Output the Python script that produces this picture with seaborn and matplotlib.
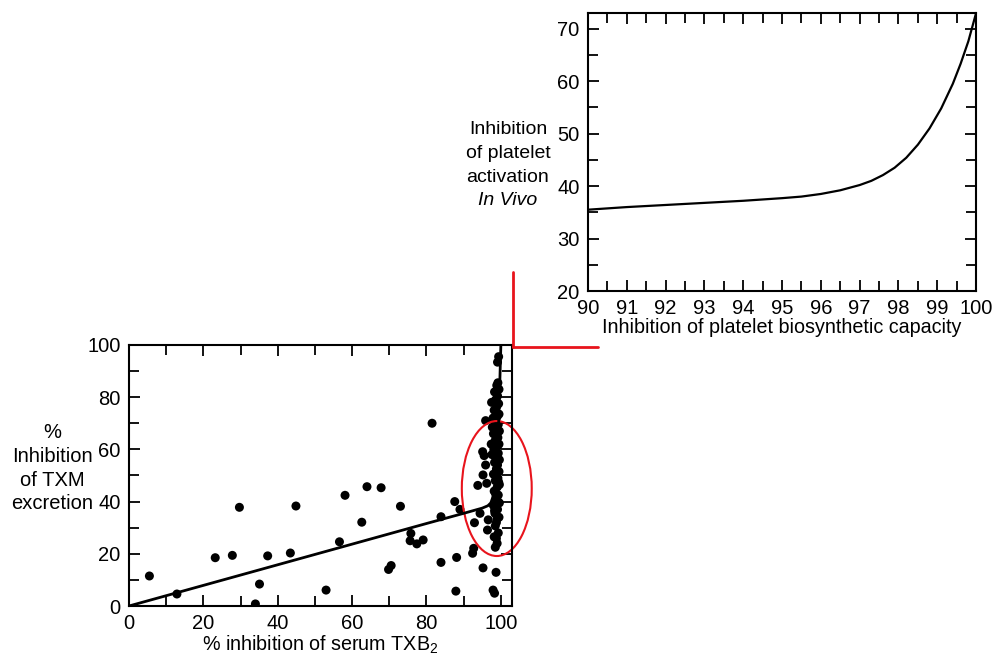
import numpy as np
import pandas as pd
import matplotlib as mpl
from matplotlib import pyplot as plt
from matplotlib.patches import Ellipse
from matplotlib.lines import Line2D
from matplotlib.ticker import MultipleLocator
import seaborn as sns

# top panel: model curve
bio_x = [90, 91, 92, 93, 94, 95, 95.5, 96, 96.5, 97, 97.3, 97.6, 97.9, 98.2, 98.5,
         98.8, 99.1, 99.4, 99.6, 99.8, 100]
act_y = [35.5, 36.0, 36.4, 36.8, 37.2, 37.7, 38.0, 38.5, 39.2, 40.2, 41.0, 42.1, 43.5,
         45.4, 47.9, 51.0, 54.8, 59.5, 63.3, 67.6, 73.0]

# bottom panel: fitted curve
fit_x = [0, 20, 40, 60, 80, 90, 95, 96.5, 97.3, 97.8, 98.2, 98.6, 99.0, 99.4, 99.7, 100]
fit_y = [0, 7.9, 15.8, 23.7, 31.6, 35.5, 37.5, 38.4, 39.5, 41.5, 44.0, 48.0, 55.0, 70.0, 85.0, 100.0]

# bottom panel: scatter
serum_x = [5.5, 12.9, 23.2, 27.8, 29.7, 34.0, 35.1, 37.3, 43.4, 44.9, 53.0, 56.6, 58.1,
           62.6, 64.0, 67.8, 69.8, 70.5, 73.0, 75.8, 75.6, 77.4, 79.1, 81.5, 83.9, 83.9,
           87.6, 88.1, 87.9, 89.0, 92.4, 92.7, 92.9, 93.8, 94.4, 95.2, 95.2, 95.1, 95.5,
           95.9, 95.9, 96.2, 96.6, 96.4, 97.9, 98.3, 98.7, 98.5, 98.8, 98.5, 99.1, 99.4,
           99.0, 98.2, 99.3, 98.8, 99.5, 98.4, 99.1, 98.0, 99.6, 98.7, 99.3, 98.2, 99.0,
           99.6, 98.5, 99.2, 98.0, 99.5, 98.8, 99.1, 98.3, 99.6, 98.7, 99.3, 98.1, 99.0,
           99.5, 98.5, 99.2, 98.0, 99.6, 98.8, 99.3, 98.4, 99.0, 99.5, 98.2, 98.9, 99.4,
           98.6, 99.1, 98.3, 99.5, 98.9, 99.2, 98.5, 98.9, 99.4, 98.6, 99.2, 98.3, 99.0,
           97.6, 97.4, 97.7, 97.9, 97.5]
txm_y = [11.5, 4.6, 18.5, 19.4, 37.8, 0.8, 8.4, 19.2, 20.3, 38.3, 6.1, 24.6, 42.4,
         32.1, 45.7, 45.3, 14.0, 15.5, 38.2, 27.8, 25.0, 23.8, 25.3, 70.0, 34.2, 16.7,
         40.0, 18.6, 5.7, 37.0, 20.2, 22.1, 31.9, 46.2, 35.5, 14.6, 50.2, 59.1, 57.6,
         54.0, 71.0, 47.0, 33.0, 29.1, 6.1, 4.9, 12.9, 22.5, 25.9, 30.7, 93.4, 95.5,
         24.0, 26.5, 28.0, 32.0, 34.0, 35.5, 37.0, 38.5, 39.5, 41.0, 42.5, 44.0, 45.5,
         46.5, 48.0, 49.0, 50.5, 51.5, 52.5, 54.0, 55.0, 56.0, 57.5, 58.5, 60.0, 61.0,
         62.0, 63.5, 64.5, 66.0, 67.0, 68.0, 69.5, 71.0, 72.5, 73.5, 75.0, 76.5, 77.5,
         79.0, 80.5, 82.0, 83.0, 84.5, 85.5, 60.5, 55.5, 47.5, 43.0, 40.0, 36.5, 33.5,
         58.0, 62.0, 68.5, 72.0, 78.0]

sns.set_style('ticks')
plt.rcParams['font.family'] = ['Liberation Sans', 'DejaVu Sans']
plt.rcParams['mathtext.fontset'] = 'custom'
plt.rcParams['mathtext.rm'] = 'Liberation Sans'
plt.rcParams['mathtext.it'] = 'Liberation Sans:italic'
plt.rcParams['mathtext.default'] = 'regular'
plt.rcParams['text.color'] = 'black'
plt.rcParams['axes.labelcolor'] = 'black'

fig = plt.figure(figsize=(9.95, 6.56), dpi=100)
ax1 = fig.add_axes([0.591, 0.5564, 0.390, 0.4238])
ax2 = fig.add_axes([0.1296, 0.0762, 0.385, 0.398])


def style(ax):
    for s in ax.spines.values():
        s.set_linewidth(1.5)
        s.set_color('black')
    ax.tick_params(which='both', direction='in', top=True, right=True,
                   width=1.3, colors='black', labelsize=14.5)
    ax.tick_params(which='major', length=8)
    ax.tick_params(which='minor', length=7)
    ax.tick_params(axis='x', pad=6)
    ax.tick_params(axis='y', pad=6)


top = pd.DataFrame({'x': bio_x, 'y': act_y})
sns.lineplot(data=top, x='x', y='y', ax=ax1, color='black', lw=1.6)
ax1.set_xlim(90, 100)
ax1.set_ylim(20, 73)
ax1.xaxis.set_major_locator(MultipleLocator(1))
ax1.xaxis.set_minor_locator(MultipleLocator(0.5))
ax1.yaxis.set_major_locator(MultipleLocator(10))
ax1.yaxis.set_minor_locator(MultipleLocator(5))
style(ax1)
ax1.set_xlabel('Inhibition of platelet biosynthetic capacity', fontsize=14.2, labelpad=0)
ax1.set_ylabel('')

pts = pd.DataFrame({'x': serum_x, 'y': txm_y})
sns.scatterplot(data=pts, x='x', y='y', ax=ax2, color='black', s=42,
                edgecolor='none', linewidth=0)
fit = pd.DataFrame({'x': fit_x, 'y': fit_y})
sns.lineplot(data=fit, x='x', y='y', ax=ax2, color='black', lw=2, sort=False)
ax2.set_xlim(0, 103)
ax2.set_ylim(0, 100)
ax2.xaxis.set_major_locator(MultipleLocator(20))
ax2.xaxis.set_minor_locator(MultipleLocator(10))
ax2.yaxis.set_major_locator(MultipleLocator(20))
ax2.yaxis.set_minor_locator(MultipleLocator(10))
style(ax2)
ax2.set_xlabel(r'% inhibition of serum TXB$_2$', fontsize=14.2, labelpad=0)
ax2.set_ylabel('')

ax2.add_patch(Ellipse((98.9, 45.0), 18.8, 51.7, fill=False, edgecolor='#e8141c',
                      lw=1.5, clip_on=False))

H = 656
for i, t in enumerate(['Inhibition', 'of platelet', 'activation']):
    fig.text(508 / 995, 1 - (130 + 23.5 * i) / H, t, ha='center', va='center', fontsize=14)
fig.text(508 / 995, 1 - 200 / H, 'In Vivo', ha='center', va='center', fontsize=14,
         style='italic')
for i, t in enumerate(['%', 'Inhibition', 'of TXM', 'excretion']):
    fig.text(52 / 995, 1 - (433 + 23.5 * i) / H, t, ha='center', va='center', fontsize=14.5)

fig.add_artist(Line2D([513 / 995, 513 / 995], [1 - 272 / H, 1 - 347 / H],
                      transform=fig.transFigure, color='#e8141c', lw=2))
fig.add_artist(Line2D([513 / 995, 598 / 995], [1 - 347 / H, 1 - 347 / H],
                      transform=fig.transFigure, color='#e8141c', lw=2))

fig.savefig('out.png', dpi=100)
